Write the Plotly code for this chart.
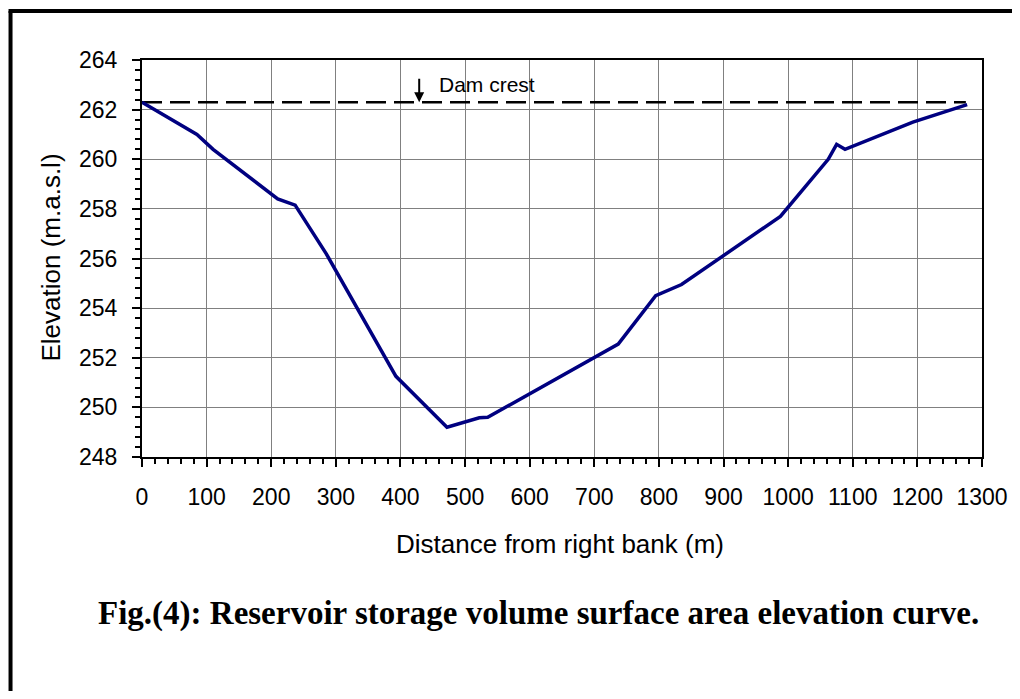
import plotly.graph_objects as go

# Data
distance_m = [0, 85, 110, 210, 237, 285, 393, 472, 522, 535, 737, 795, 835, 988, 1062, 1075, 1088, 1193, 1277]
elevation_m = [262.3, 261.0, 260.4, 258.4, 258.15, 256.2, 251.25, 249.2, 249.58, 249.6, 252.55, 254.5, 254.95,
               257.7, 260.0, 260.6, 260.4, 261.5, 262.2]

crest_x = [0, 1275]
crest_y = [262.3, 262.3]
crest_label = "Dam crest"
crest_arrow_x = 429

x_ticks = list(range(0, 1301, 100))
y_ticks = list(range(248, 265, 2))

OFF = 8  # page body margin offset
W, H = 1020 - OFF, 699 - 2 * OFF
L, R, T, B = 141.5 - OFF, 981.7 - OFF, 60 - OFF, 457 - OFF


def px(xp):
    return (xp - OFF - L) / (R - L)


def py(yp):
    return (B - (yp - OFF)) / (B - T)


fig = go.Figure()
fig.add_trace(go.Scatter(x=crest_x, y=crest_y, mode="lines",
                         line=dict(color="black", width=2.5, dash="20px,8px"),
                         showlegend=False, hoverinfo="skip"))
fig.add_trace(go.Scatter(x=distance_m, y=elevation_m, mode="lines",
                         line=dict(color="#000080", width=3.5),
                         showlegend=False))

sans = "Liberation Sans, Arial, sans-serif"

fig.update_layout(
    width=W, height=H,
    margin=dict(l=L, r=W - R, t=T, b=H - B),
    paper_bgcolor="white", plot_bgcolor="white",
    font=dict(family=sans, size=23, color="black"),
    xaxis=dict(range=[0, 1300], tickvals=x_ticks, showgrid=True, gridcolor="#808080", gridwidth=1,
               showline=True, linecolor="black", linewidth=2, mirror=True,
               ticks="outside", ticklen=8, tickwidth=2, tickcolor="black",
               minor=dict(dtick=20, ticks="outside", ticklen=5, tickwidth=1.5, tickcolor="black", showgrid=False),
               tickfont=dict(size=23), zeroline=False, ticklabelstandoff=10),
    yaxis=dict(range=[248, 264], tickvals=y_ticks, showgrid=True, gridcolor="#808080", gridwidth=1,
               showline=True, linecolor="black", linewidth=2, mirror=True,
               ticks="outside", ticklen=8, tickwidth=2, tickcolor="black",
               minor=dict(dtick=0.4, ticks="outside", ticklen=5, tickwidth=1.5, tickcolor="black", showgrid=False),
               tickfont=dict(size=23), zeroline=False, ticklabelstandoff=10),
)

# Axis titles
fig.add_annotation(x=px(560), y=py(544), xref="paper", yref="paper", text="Distance from right bank (m)",
                   showarrow=False, xanchor="center", yanchor="middle", font=dict(size=26, color="black"))
fig.add_annotation(x=px(50), y=py(258), xref="paper", yref="paper", text="Elevation (m.a.s.l)",
                   showarrow=False, xanchor="center", yanchor="middle", textangle=-90,
                   font=dict(size=26, color="black"))

# Dam crest arrow and label
fig.add_annotation(x=crest_arrow_x, y=crest_y[0], xref="x", yref="y", text="", showarrow=True,
                   ax=0, ay=-25, arrowhead=2, arrowsize=1, arrowwidth=2, arrowcolor="black", standoff=0)
fig.add_annotation(x=px(437), y=py(84), xref="paper", yref="paper", text=crest_label, showarrow=False,
                   xanchor="left", yanchor="middle", font=dict(size=21, color="black"))

# Caption
fig.add_annotation(x=px(538), y=py(613), xref="paper", yref="paper",
                   text="<b>Fig.(4): Reservoir storage volume surface area elevation curve.</b>",
                   showarrow=False, xanchor="center", yanchor="middle",
                   font=dict(family="Liberation Serif, Times New Roman, serif", size=33, color="black"))

# Outer frame (left and top edges visible)
fig.add_shape(type="line", xref="paper", yref="paper", x0=px(10), x1=px(10), y0=py(11), y1=py(740),
              line=dict(color="black", width=4))
fig.add_shape(type="line", xref="paper", yref="paper", x0=px(8), x1=px(1060), y0=py(11), y1=py(11),
              line=dict(color="black", width=4))

fig.write_html("out.html")
